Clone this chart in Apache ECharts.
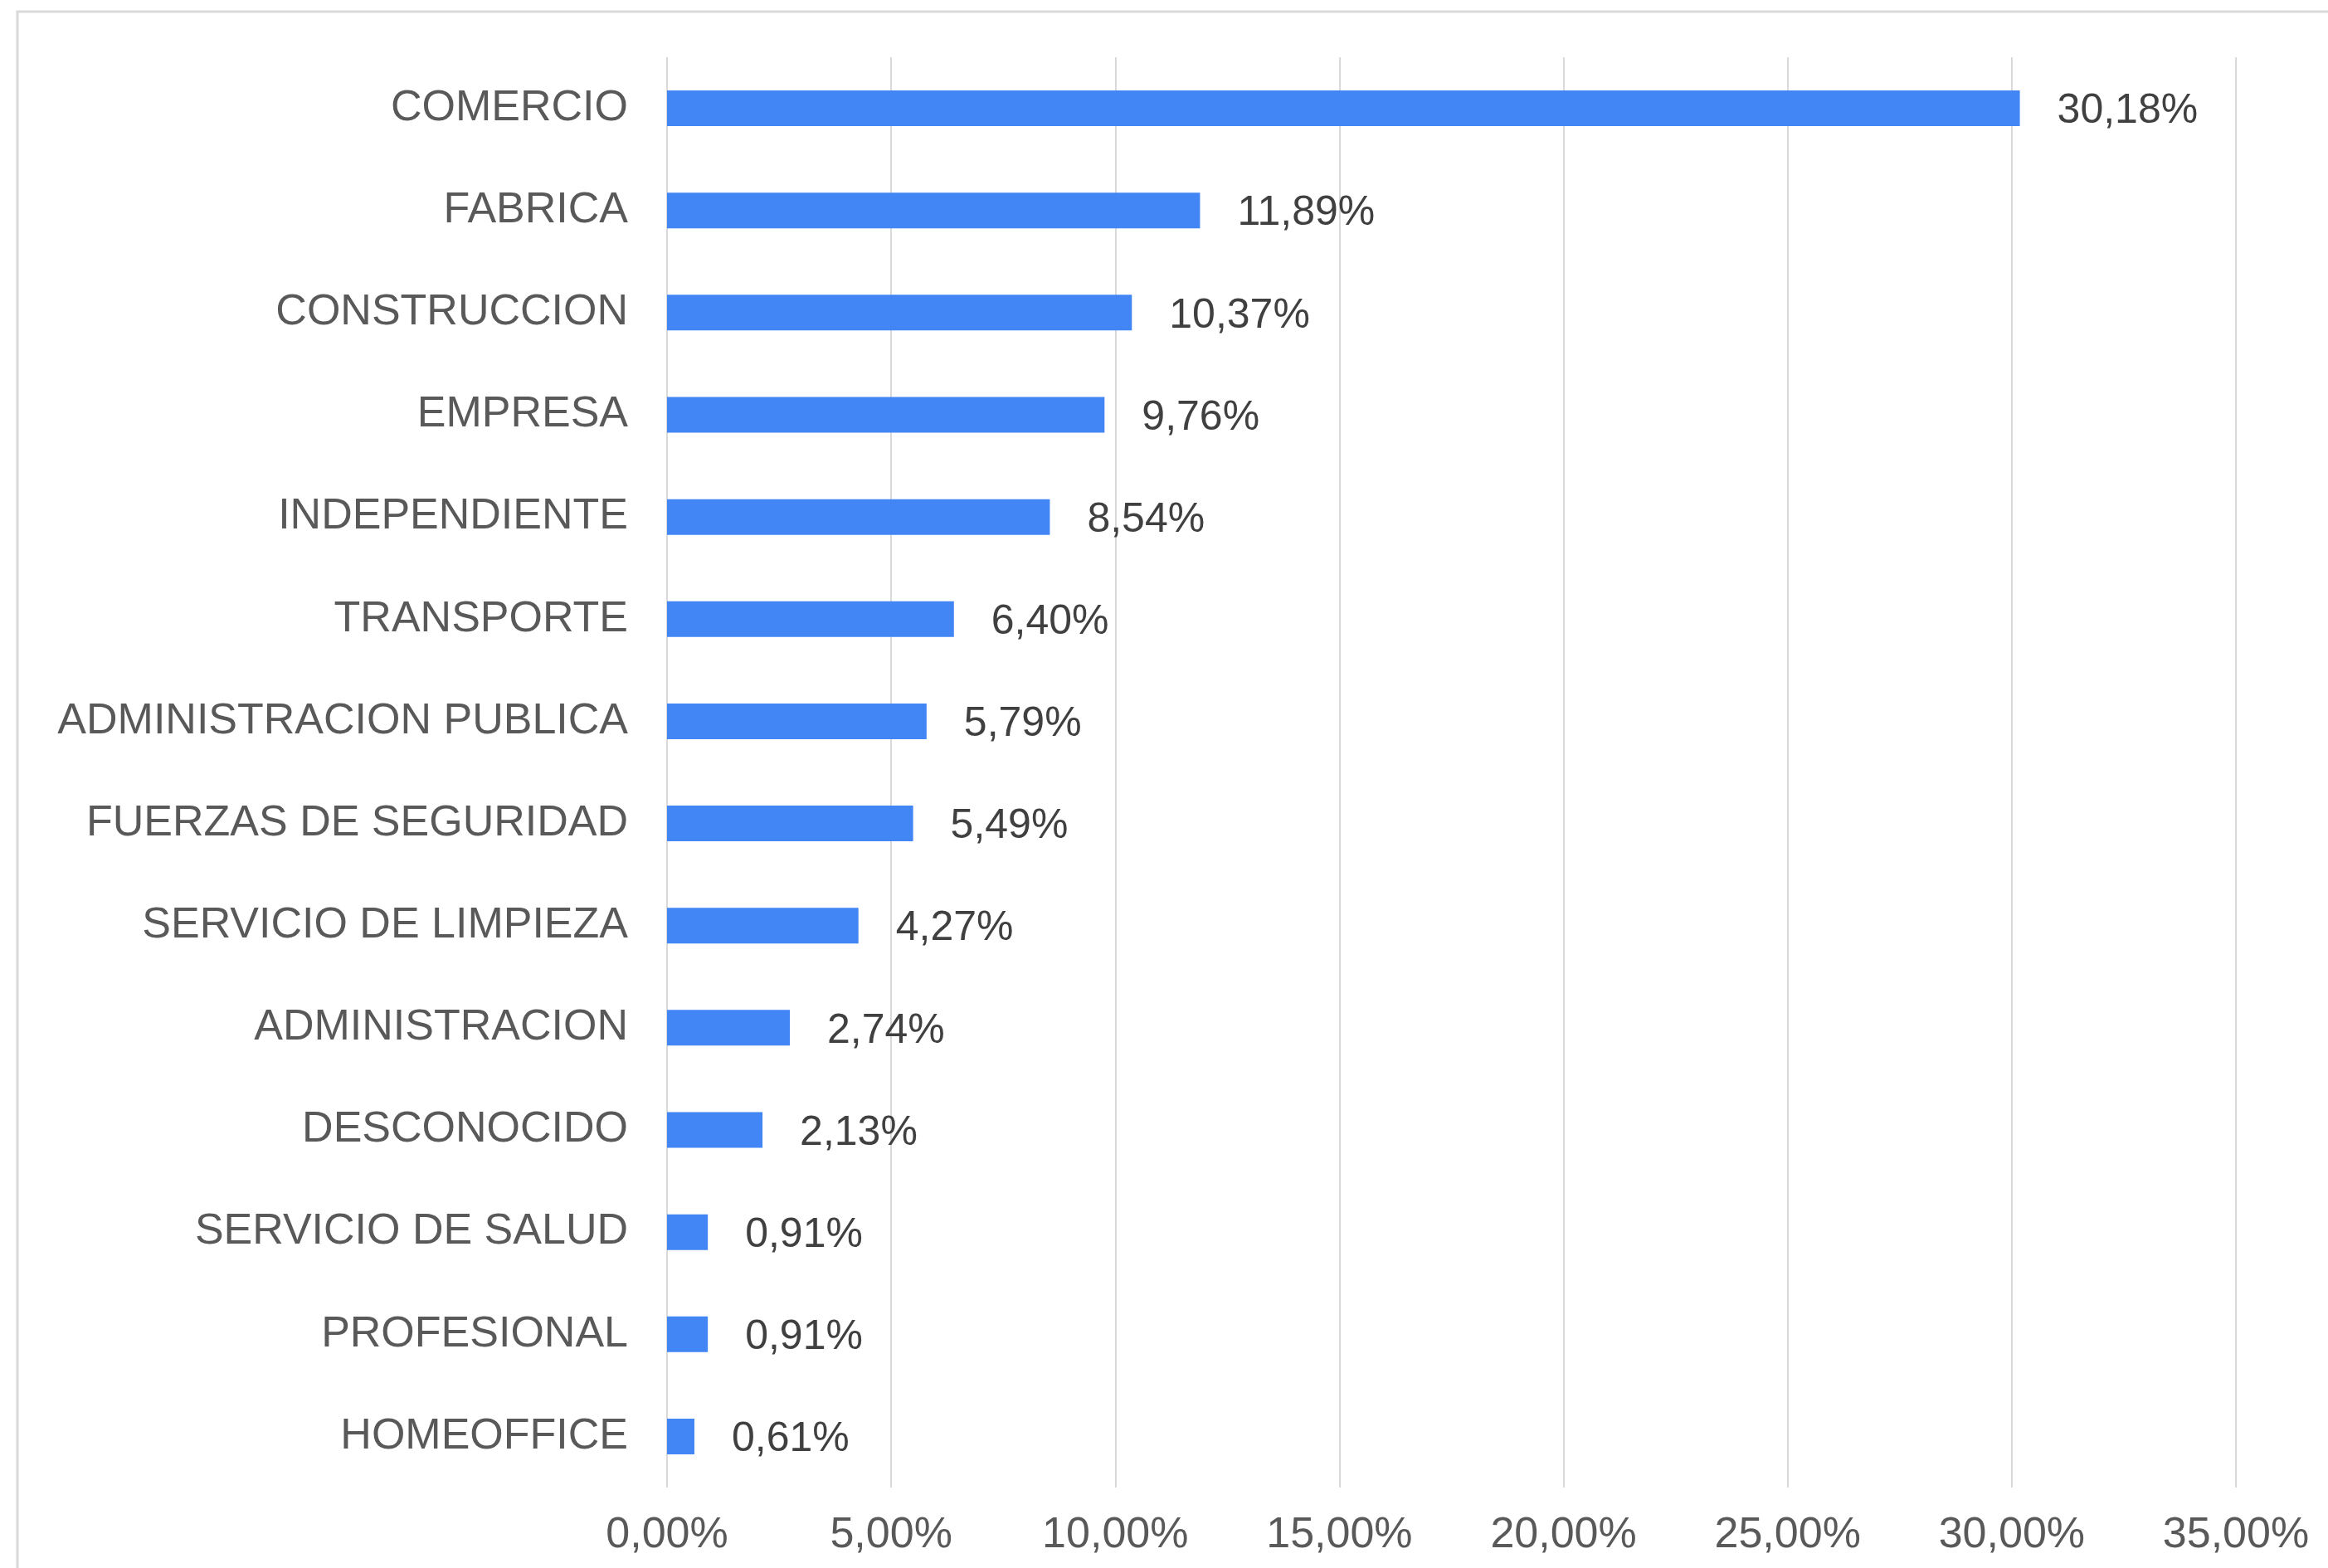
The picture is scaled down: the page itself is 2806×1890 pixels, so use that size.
<!DOCTYPE html>
<html>
<head>
<meta charset="utf-8">
<script src="https://cdn.jsdelivr.net/npm/echarts@6/dist/echarts.min.js"></script>
<style>
html,body{margin:0;padding:0;background:#fff;}
#c{width:2806px;height:1890px;}
</style>
</head>
<body>
<div id="c"></div>
<script>
const categories = ["COMERCIO","FABRICA","CONSTRUCCION","EMPRESA","INDEPENDIENTE","TRANSPORTE","ADMINISTRACION PUBLICA","FUERZAS DE SEGURIDAD","SERVICIO DE LIMPIEZA","ADMINISTRACION","DESCONOCIDO","SERVICIO DE SALUD","PROFESIONAL","HOMEOFFICE"];
const values = [30.18, 11.89, 10.37, 9.76, 8.54, 6.40, 5.79, 5.49, 4.27, 2.74, 2.13, 0.91, 0.91, 0.61];
const tickMin = 0, tickMax = 35, tickStep = 5;

function pct(v){ return v.toFixed(2).replace('.', ',') + '%'; }

const chart = echarts.init(document.getElementById('c'), null, {renderer:'canvas'});
const font = 'Liberation Sans, Arial, sans-serif';
chart.setOption({
  backgroundColor: '#ffffff',
  animation: false,
  graphic: [{
    type: 'rect', silent: true,
    shape: {x: 21, y: 14, width: 3200, height: 3000},
    style: {fill: 'none', stroke: '#d9d9d9', lineWidth: 3}
  }],
  grid: {left: 804, right: 111, top: 69, bottom: 97, containLabel: false},
  xAxis: {
    type: 'value', min: tickMin, max: tickMax, interval: tickStep,
    axisLine: {show: false}, axisTick: {show: false},
    splitLine: {show: true, lineStyle: {color: '#d9d9d9', width: 2}},
    axisLabel: {formatter: pct, color: '#595959', fontSize: 52, fontFamily: font, margin: 32}
  },
  yAxis: {
    type: 'category', data: categories, inverse: true,
    axisLine: {show: false}, axisTick: {show: false},
    axisLabel: {color: '#595959', fontSize: 52, fontFamily: font, margin: 47, padding: [8, 0, 0, 0]}
  },
  series: [{
    type: 'bar', data: values, barWidth: 43,
    itemStyle: {color: '#4285F4'},
    label: {show: true, position: 'right', distance: 45, color: '#404040', fontSize: 50, fontFamily: font,
      offset: [0, 4],
      formatter: p => pct(p.value)}
  }]
});
</script>
</body>
</html>
